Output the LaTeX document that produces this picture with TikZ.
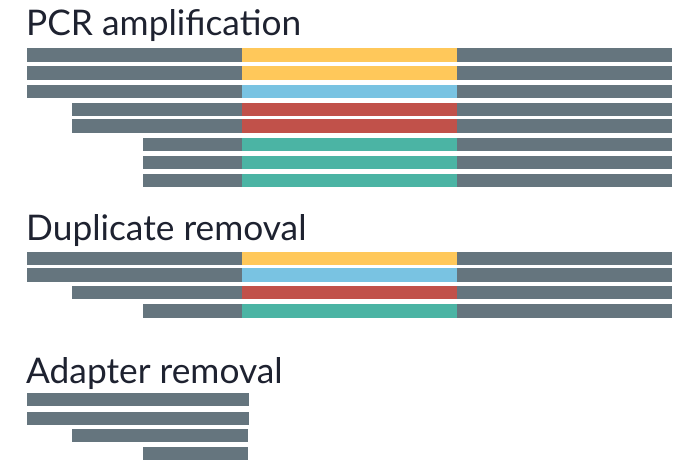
\documentclass[tikz,border=0pt]{standalone}
\usepackage{fontspec}
\setmainfont{Lato}
\definecolor{adaptergray}{RGB}{101,117,126}
\definecolor{umiyellow}{RGB}{255,200,90}
\definecolor{umiblue}{RGB}{121,195,226}
\definecolor{umired}{RGB}{193,81,74}
\definecolor{umiteal}{RGB}{75,180,164}
\definecolor{ink}{RGB}{30,34,48}
\begin{document}
\begin{tikzpicture}[x=1pt,y=-1pt,
  heading/.style={anchor=base west, inner sep=0pt, text=ink,
    font=\fontsize{35.3}{40}\selectfont},
  readpart/.style={}]
\useasboundingbox (0,0) rectangle (692,469);

% PCR amplification: full reads, adapter | UMI | adapter
\node[heading] (pcr) at (26,35) {PCR amplification};
\foreach \y/\x/\c in {48.3/27/umiyellow, 66.3/27/umiyellow, 84.7/27/umiblue,
                      102.8/72.3/umired, 119.3/72.3/umired,
                      137.7/143.3/umiteal, 155.8/143.3/umiteal, 174/143.3/umiteal} {
  \fill[readpart, fill=adaptergray] (\x,\y) rectangle (241.7,{\y+13.3});
  \fill[readpart, fill=\c] (241.7,\y) rectangle (456.7,{\y+13.3});
  \fill[readpart, fill=adaptergray] (456.7,\y) rectangle (672.3,{\y+13.3});
}

% Duplicate removal: one read per UMI
\node[heading] (dup) at (26,240) {Duplicate removal};
\foreach \y/\x/\c in {251.7/27/umiyellow, 268.3/27/umiblue,
                      286/72.3/umired, 304.3/143.3/umiteal} {
  \fill[readpart, fill=adaptergray] (\x,\y) rectangle (241.7,{\y+13.3});
  \fill[readpart, fill=\c] (241.7,\y) rectangle (456.7,{\y+13.3});
  \fill[readpart, fill=adaptergray] (456.7,\y) rectangle (672.3,{\y+13.3});
}

% Adapter removal: trimmed inserts
\node[heading] (adp) at (26,383) {Adapter removal};
\foreach \y/\x/\r in {393.3/27/249.3, 411.7/27/249.3,
                      429.3/72.3/247.7, 447.3/143.3/247.7} {
  \fill[readpart, fill=adaptergray] (\x,\y) rectangle (\r,{\y+13});
}
\end{tikzpicture}
\end{document}
